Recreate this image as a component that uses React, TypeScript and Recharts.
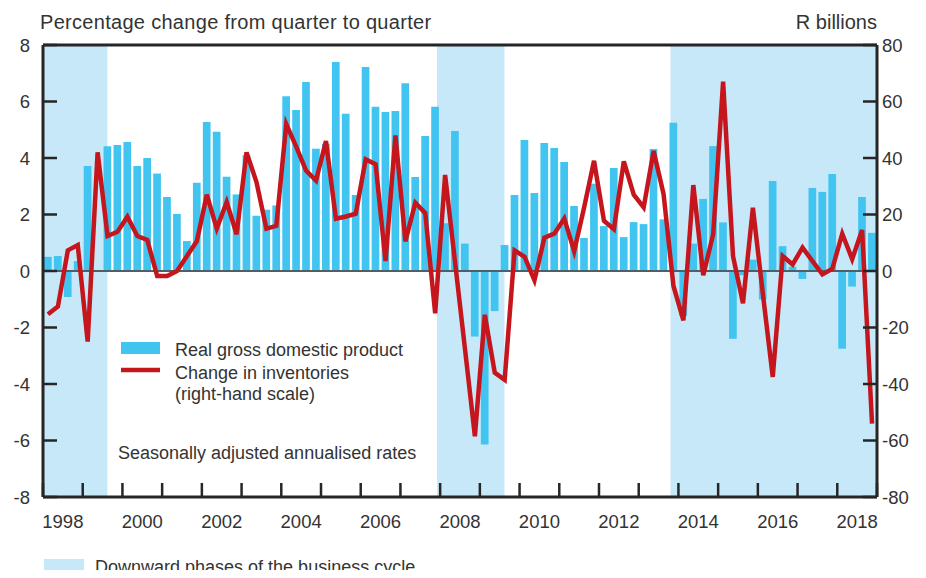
import { ComposedChart, Bar, Line, XAxis, YAxis, ReferenceArea, ReferenceLine } from 'recharts';

const START_YEAR = 1998;

// Real GDP, quarter-on-quarter % change (saar), 1998Q1 - 2018Q4
const gdpGrowth = [
  0.5, 0.53, -0.92, 0.35,
  3.72, 0.0, 4.42, 4.46,
  4.57, 3.72, 4.0, 3.45,
  2.62, 2.02, 1.06, 3.12,
  5.27, 4.93, 3.34, 2.71,
  4.1, 1.96, 2.17, 2.32,
  6.19, 5.7, 6.69, 4.33,
  4.5, 7.4, 5.57, 2.69,
  7.22, 5.81, 5.63, 5.66,
  6.65, 3.33, 4.78, 5.81,
  1.69, 4.96, 0.97, -2.32,
  -6.14, -1.42, 0.92, 2.69,
  4.64, 2.76, 4.53, 4.35,
  3.86, 2.3, 1.17, 3.09,
  1.59, 3.65, 1.2, 1.73,
  1.66, 4.32, 1.83, 5.25,
  -1.59, 0.97, 2.55, 4.42,
  1.72, -2.4, -0.15, 0.4,
  -1.01, 3.19, 0.88, 0.15,
  -0.28, 2.94, 2.8, 3.43,
  -2.75, -0.55, 2.62, 1.35,
];

// Change in inventories, R billions (right-hand scale)
const inventoryChange = [
  -15.3, -12.6, 7.3, 9.2,
  -25, 42, 12.4, 13.9,
  19.2, 12.4, 11, -1.8,
  -1.8, 0, 5.3, 10.6,
  27, 15, 24.4, 13,
  42, 31.5, 15, 16,
  52, 44, 35.5, 32,
  46, 18.5, 19.3, 20.3,
  39.5, 37.8, 3.5, 48,
  10.5, 24.2, 20.5, -15,
  34, 3.2, -27.5, -58.5,
  -15.5, -36, -38.5, 7.3,
  5, -3.3, 11.8, 13.2,
  18.6, 7, 22.5, 39,
  17.8, 14.8, 38.8, 27,
  22.5, 42.5, 27.3, -5.3,
  -17.5, 30.4, -1.5, 13,
  67, 5.2, -11.4, 22.4,
  -8, -37.5, 5.3, 2.3,
  8.3, 3.5, -1.2, 0.8,
  13.2, 4.2, 14.5, -54,
];

// downward phases of the business cycle (decimal years)
const downwardStarts = [1998, 2007.92, 2013.8];
const downwardEnds = [1999.62, 2009.62, 2019];

const tickYears = [1998, 1999, 2000, 2001, 2002, 2003, 2004, 2005, 2006, 2007, 2008, 2009, 2010, 2011, 2012, 2013, 2014, 2015, 2016, 2017, 2018, 2019];
const labelYears = [1998, 2000, 2002, 2004, 2006, 2008, 2010, 2012, 2014, 2016, 2018];
const leftTicks = [-8, -6, -4, -2, 0, 2, 4, 6, 8];
const rightTicks = [-80, -60, -40, -20, 0, 20, 40, 60, 80];

const data = gdpGrowth.map((g, i) => ({
  t: START_YEAR + (i + 0.5) / 4,
  gdp: g,
  inv: inventoryChange[i],
}));

const BLUE = '#42c4f1';
const SHADE = '#c6e8f8';
const RED = '#c5161d';
const INK = '#262626';
const TEXT = '#333333';
const FONT = '"Liberation Sans", Arial, sans-serif';
const TICK_LEN = 14;

// year ticks point into the plot, labels sit mid-year
const xTickValues = [...tickYears, ...labelYears.map((y) => y + 0.5)].sort((a, b) => a - b);

function XTick(props: any) {
  const { x, y, payload } = props;
  const v = payload.value as number;
  if (Number.isInteger(v)) {
    return <line x1={x} y1={y} x2={x} y2={y - TICK_LEN} stroke={INK} strokeWidth={2.5} />;
  }
  return (
    <text x={x} y={y + 31} textAnchor="middle" fill={TEXT} fontSize={18.5} fontFamily={FONT}>
      {Math.floor(v)}
    </text>
  );
}

function LeftTick(props: any) {
  const { x, y, payload } = props;
  return (
    <g>
      <line x1={x} y1={y} x2={x + TICK_LEN} y2={y} stroke={INK} strokeWidth={2.5} />
      <text x={x - 13} y={y + 6.5} textAnchor="end" fill={TEXT} fontSize={18.5} fontFamily={FONT}>
        {payload.value}
      </text>
    </g>
  );
}

function RightTick(props: any) {
  const { x, y, payload } = props;
  return (
    <g>
      <line x1={x - TICK_LEN} y1={y} x2={x} y2={y} stroke={INK} strokeWidth={2.5} />
      <text x={x + 5} y={y + 6.5} textAnchor="start" fill={TEXT} fontSize={18.5} fontFamily={FONT}>
        {payload.value}
      </text>
    </g>
  );
}

export default function App() {
  // negative margin cancels the default body margin so the chart fills the window
  return (
    <div style={{ position: 'relative', width: 926, height: 578, margin: -8 }}>
      <ComposedChart
        width={926}
        height={578}
        data={data}
        margin={{ top: 45, right: 0, bottom: 51, left: 0 }}
      >
        {downwardStarts.map((s, i) => (
          <ReferenceArea
            key={s}
            xAxisId="t"
            yAxisId="l"
            x1={s}
            x2={downwardEnds[i]}
            y1={-8}
            y2={8}
            fill={SHADE}
            fillOpacity={1}
            stroke="none"
          />
        ))}
        <XAxis
          xAxisId="t"
          dataKey="t"
          type="number"
          domain={[1998, 2019]}
          ticks={xTickValues}
          interval={0}
          height={30}
          tickSize={0}
          tickMargin={0}
          tickLine={false}
          axisLine={{ stroke: INK, strokeWidth: 3 }}
          tick={<XTick />}
          allowDataOverflow
        />
        <YAxis
          yAxisId="l"
          domain={[-8, 8]}
          ticks={leftTicks}
          interval={0}
          width={43}
          tickSize={0}
          tickMargin={0}
          tickLine={false}
          axisLine={{ stroke: INK, strokeWidth: 3 }}
          tick={<LeftTick />}
          allowDataOverflow
        />
        <YAxis
          yAxisId="r"
          orientation="right"
          domain={[-80, 80]}
          ticks={rightTicks}
          interval={0}
          width={49}
          tickSize={0}
          tickMargin={0}
          tickLine={false}
          axisLine={{ stroke: INK, strokeWidth: 3 }}
          tick={<RightTick />}
          allowDataOverflow
        />
        <Bar xAxisId="t" yAxisId="l" dataKey="gdp" fill={BLUE} barSize={7.7} isAnimationActive={false} />
        <ReferenceLine xAxisId="t" yAxisId="l" y={0} stroke="#4f5f66" strokeWidth={2} />
        <ReferenceLine xAxisId="t" yAxisId="l" y={8} stroke={INK} strokeWidth={3} />
        <Line
          xAxisId="t"
          yAxisId="r"
          dataKey="inv"
          type="linear"
          stroke={RED}
          strokeWidth={4.5}
          dot={false}
          activeDot={false}
          isAnimationActive={false}
        />
      </ComposedChart>

      <svg
        width={926}
        height={578}
        style={{ position: 'absolute', left: 0, top: 0, pointerEvents: 'none' }}
        fontFamily={FONT}
        fill={TEXT}
      >
        <text x={40} y={28.5} fontSize={20} letterSpacing={0.3}>
          Percentage change from quarter to quarter
        </text>
        <text x={877} y={28.5} fontSize={20} textAnchor="end">
          R billions
        </text>

        <rect x={121} y={342} width={39} height={12} fill={BLUE} />
        <text x={175} y={355.5} fontSize={18}>Real gross domestic product</text>
        <line x1={121} y1={370} x2={160} y2={370} stroke={RED} strokeWidth={4.5} />
        <text x={175} y={378.5} fontSize={18}>Change in inventories</text>
        <text x={175} y={399.5} fontSize={18}>(right-hand scale)</text>
        <text x={118} y={458.5} fontSize={18}>Seasonally adjusted annualised rates</text>

        <rect x={44} y={559} width={40} height={15} fill={SHADE} />
        <text x={95} y={573} fontSize={18}>Downward phases of the business cycle</text>
      </svg>
    </div>
  );
}
